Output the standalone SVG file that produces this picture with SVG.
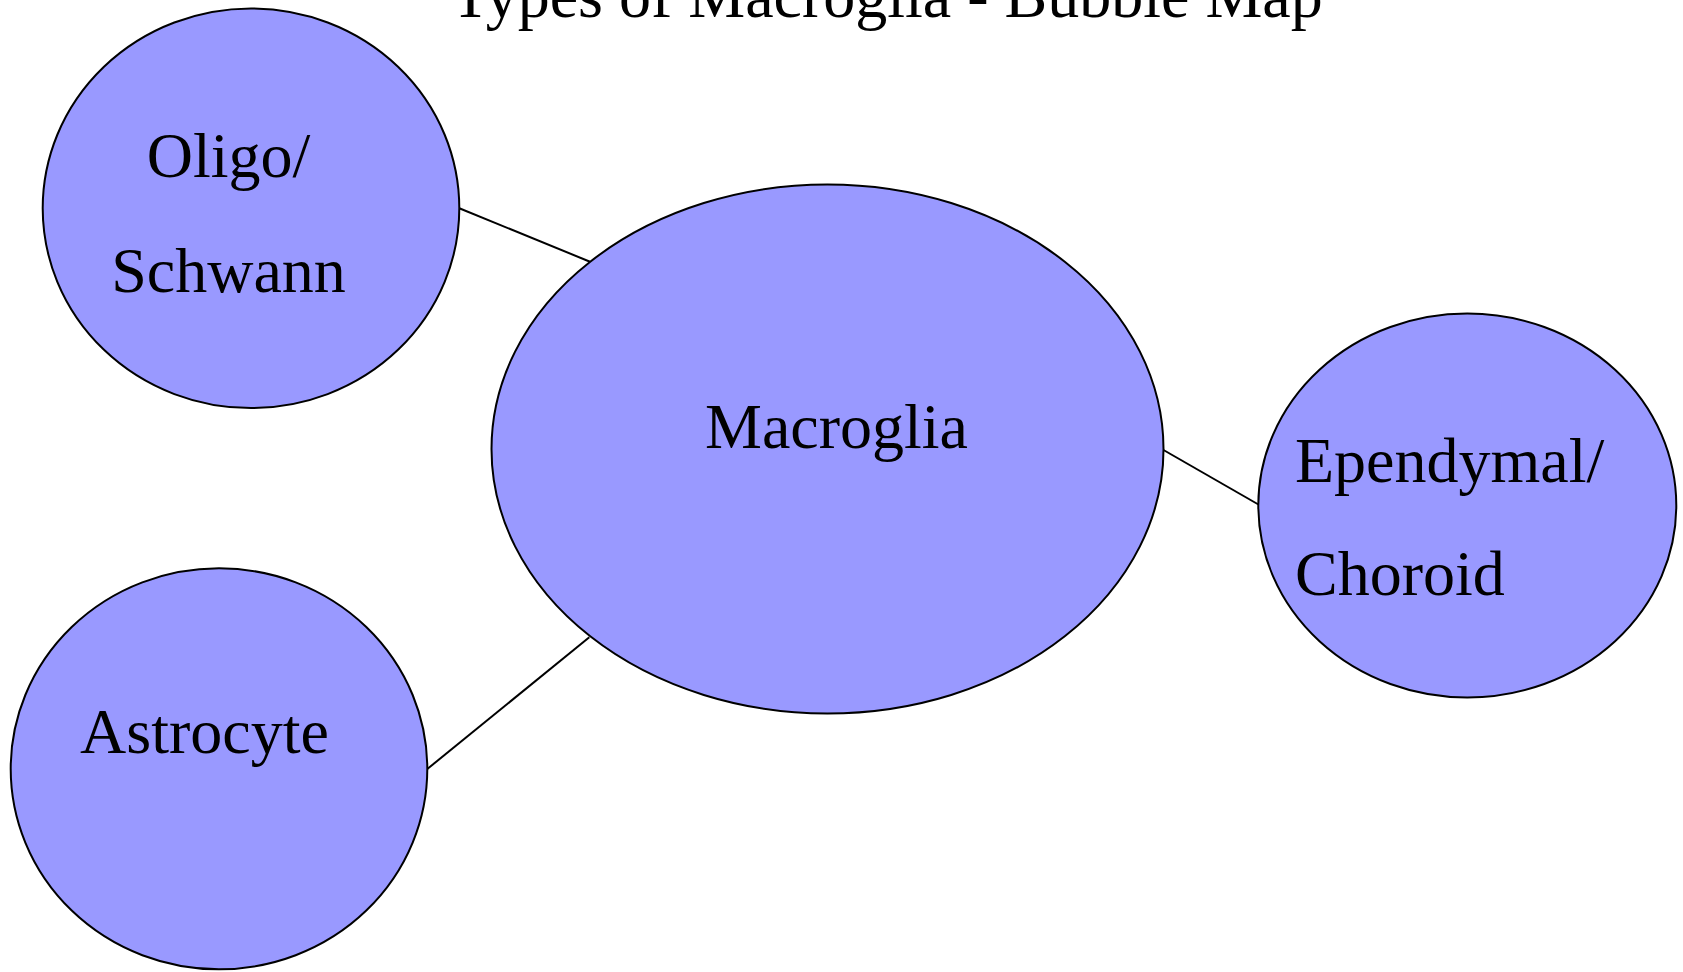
<svg xmlns="http://www.w3.org/2000/svg" width="1683" height="972" viewBox="0 0 1683 972">
<style>
.bubble{fill:#9999ff;stroke:#000;stroke-width:2}
.lbl{font-family:"Liberation Serif","Times New Roman",serif;font-size:64px;fill:#000}
.conn line{stroke:#000;stroke-width:2}
</style>
<rect width="1683" height="972" fill="#fff"/>
<text id="title" class="lbl" x="451" y="17">Types of Macroglia - Bubble Map</text>
<g id="connectors" class="conn">
<line x1="459.3" y1="208.3" x2="590" y2="261.7"/>
<line x1="1163.5" y1="450" x2="1259.3" y2="505"/>
<line x1="427.3" y1="769" x2="589.3" y2="637.3"/>
</g>
<g id="node-macroglia">
<ellipse class="bubble" cx="827.5" cy="449" rx="336" ry="264.5"/>
<text class="lbl" x="705" y="448.3">Macroglia</text>
</g>
<g id="node-oligo">
<ellipse class="bubble" cx="251" cy="208.3" rx="208.3" ry="199.8"/>
<text class="lbl" x="228.5" y="176.7" text-anchor="middle">Oligo/</text>
<text class="lbl" x="228.5" y="291.7" text-anchor="middle">Schwann</text>
</g>
<g id="node-ependymal">
<ellipse class="bubble" cx="1467.3" cy="505.5" rx="209" ry="192"/>
<text class="lbl" x="1295" y="481.7">Ependymal/</text>
<text class="lbl" x="1295" y="595">Choroid</text>
</g>
<g id="node-astrocyte">
<ellipse class="bubble" cx="219" cy="768.8" rx="208.3" ry="200.5"/>
<text class="lbl" x="80" y="752.7">Astrocyte</text>
</g>
</svg>
